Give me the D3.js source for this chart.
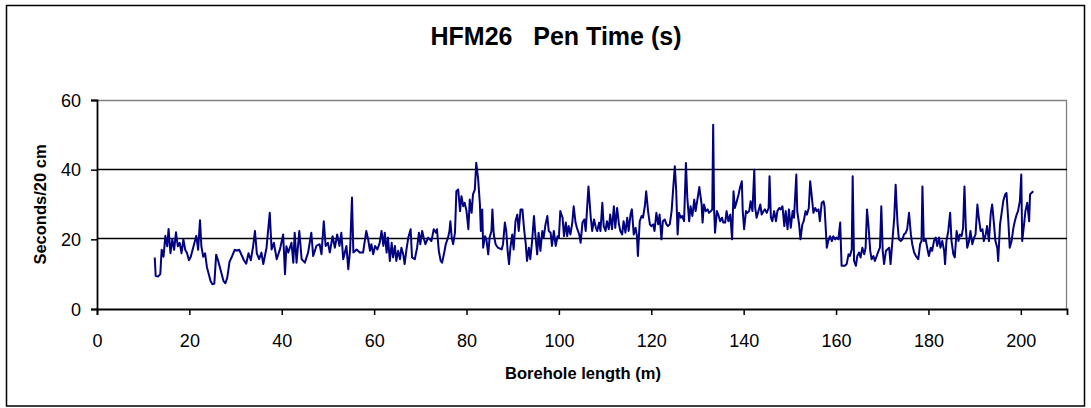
<!DOCTYPE html>
<html>
<head>
<meta charset="utf-8">
<script src="https://cdn.jsdelivr.net/npm/d3@7"></script>
<style>
  body { margin: 0; background: #fff; }
  svg { display: block; font-family: "Liberation Sans", Arial, sans-serif; }
</style>
</head>
<body>
<div id="chart"></div>
<script>
// borehole length (m)
const depth = [
  12.5,12.7,13.2,13.7,14.0,14.4,14.8,15.2,15.5,15.9,16.3,16.7,17.1,17.5,17.9,18.3,18.7,19.1,19.5,19.9,
  20.3,20.7,21.1,21.5,21.9,22.3,22.6,23.0,23.4,23.8,24.2,24.6,25.0,25.4,25.8,26.2,26.6,27.0,27.4,27.8,
  28.2,28.7,29.2,29.8,30.3,30.8,31.3,31.8,32.3,32.8,33.3,33.8,34.2,34.6,35.1,35.6,36.0,36.7,37.4,37.8,
  38.3,38.9,39.6,40.3,40.7,41.0,41.4,42.1,42.5,42.8,43.2,43.8,44.3,45.0,45.7,46.4,46.8,47.5,48.2,48.6,
  49.1,49.5,50.0,50.4,51.0,51.5,52.0,52.5,52.9,53.3,54.0,54.4,54.8,55.2,55.5,56.2,56.9,57.6,58.3,58.7,
  59.1,59.4,59.8,60.2,60.7,61.2,61.6,62.0,62.3,62.7,63.0,63.4,63.8,64.1,64.5,64.8,65.2,65.6,65.9,66.3,
  66.6,67.0,67.4,67.9,68.2,68.8,69.3,69.7,70.0,70.4,70.8,71.1,71.7,72.4,72.9,73.4,73.6,74.0,74.4,74.7,
  75.1,75.5,76.0,76.3,76.5,76.8,77.1,77.5,77.8,78.2,78.6,78.9,79.3,79.6,80.0,80.4,80.7,81.1,81.4,81.8,
  82.1,82.5,82.9,83.1,83.4,83.6,84.0,84.3,84.7,85.0,85.4,85.6,85.9,86.3,86.8,87.6,87.9,88.3,88.6,88.9,
  89.2,89.5,89.9,90.2,90.6,91.0,91.3,91.7,92.1,92.5,92.8,93.1,93.5,93.8,94.2,94.6,94.9,95.3,95.6,96.0,
  96.4,96.7,97.1,97.5,97.8,98.2,98.5,98.9,99.3,99.7,100.0,100.3,100.8,101.1,101.5,101.8,102.1,102.5,102.9,103.2,
  103.6,103.9,104.4,104.7,105.1,105.5,105.8,106.4,106.9,107.2,107.6,108.0,108.3,108.7,109.0,109.4,109.7,110.1,110.4,110.8,
  111.1,111.5,111.9,112.2,112.6,113.0,113.3,113.7,114.0,114.4,114.8,115.1,115.5,115.8,116.2,116.6,116.9,117.1,117.5,117.9,
  118.2,118.6,118.9,119.3,119.7,120.0,120.4,120.7,121.1,121.5,121.8,122.2,122.5,122.9,123.3,123.6,124.0,124.4,124.7,125.1,
  125.4,125.7,126.0,126.4,126.7,127.1,127.5,127.8,128.2,128.5,128.9,129.3,129.6,130.4,130.9,131.1,131.4,131.8,132.2,132.5,
  132.9,133.2,133.4,133.6,133.8,134.2,134.5,134.9,135.3,135.6,136.0,136.3,136.7,137.1,137.5,137.8,138.1,138.5,138.9,139.2,
  139.6,139.8,140.1,140.5,140.8,141.2,141.5,141.9,142.3,142.5,142.8,143.2,143.6,143.9,144.3,144.6,145.0,145.4,145.6,145.9,
  146.2,146.6,147.0,147.3,147.7,148.0,148.4,148.8,149.1,149.5,149.8,150.2,150.6,150.9,151.4,151.6,152.0,152.3,152.7,153.0,
  153.4,153.7,154.1,154.4,154.7,155.1,155.5,155.8,156.2,156.5,156.9,157.3,157.5,157.8,158.0,158.3,158.7,159.1,159.4,159.8,
  160.1,160.5,160.9,161.2,161.6,161.9,162.3,162.7,163.0,163.4,163.6,163.9,164.3,164.6,165.0,165.3,165.7,166.1,166.4,166.7,
  167.0,167.4,167.7,168.1,168.4,168.8,169.2,169.5,169.8,170.1,170.4,170.8,171.1,171.5,171.8,172.2,172.6,172.9,173.3,173.6,
  174.0,174.4,174.7,175.1,175.4,175.8,176.2,176.5,176.9,177.3,177.8,178.2,178.5,178.7,179.0,179.4,179.8,180.1,180.5,180.8,
  181.2,181.6,181.9,182.3,182.6,183.0,183.4,183.6,183.9,184.3,184.7,185.0,185.4,185.7,186.1,186.5,186.8,187.2,187.5,187.8,
  188.1,188.4,188.8,189.1,189.5,189.9,190.2,190.6,190.9,191.3,191.7,192.0,192.4,192.7,193.1,193.5,193.8,194.2,194.5,194.9,
  195.1,195.5,195.8,196.2,196.6,196.9,197.3,197.6,198.0,198.4,198.7,199.1,199.4,199.8,200.1,200.3,200.7,201.0,201.4,201.8,
  202.0,202.3,202.7
];

// pen time (seconds / 20 cm)
const penTime = [
  14.8,9.5,9.3,10,17,15,21,18,23,16,20,17,22,18,19,16,20,17,16,14,
  15,17,19,21,17,25.5,18,15,16,12,10,8,7.1,7.3,15.6,14,12,10,8,7.4,
  9,13.6,15,17,16.8,17,15.5,14,13,16,14,18,22.4,16,14.3,16.2,12.9,17.6,27.6,17.1,
  19,14.3,17.1,21.4,10,18,16.2,19,13.3,21.9,13.3,22.4,14.3,13.3,16.2,21.9,15.2,18.1,18.6,15.7,
  25.2,18.1,19,16.2,20.9,17.6,21.4,18.1,21.9,14.3,18.1,11.4,17.1,32,16.2,17.1,16.2,16.2,22.4,20,
  16.7,18.6,15.7,18.1,17.1,19,22.4,18.1,21.9,16.2,20.5,13.8,19,14.8,18.1,13.8,16.7,14.3,17.6,15.7,
  12.9,17.1,20.5,22.9,14.8,14.3,17.6,21.9,18.6,22.4,20,18.6,20.5,19.5,22.9,21.9,22.9,16.7,13.8,13.3,
  15.7,18.6,20.5,22.4,25.2,20.5,18.6,21.9,33.8,34.3,28.1,32.4,29.5,30.5,28.1,22.9,31.4,27.6,32.9,34.3,
  42,37.6,30,22.4,28.6,17.6,20.9,20,15.7,20.5,22.4,28.6,21.4,18.6,17.6,17.1,18.6,24.8,22.4,16.7,
  12.9,17.6,21.4,17.1,25.2,27.1,22.4,28.6,28.6,22.4,19,13.8,17.6,14.3,19.5,26.7,21.4,15.7,21.9,16.7,
  22.4,20.5,24.3,26.7,22.4,21.9,18.1,22.4,18.1,20.9,20.5,28.1,26.2,20.9,24.8,20.9,23.8,21.4,24.8,29.5,
  24.8,23.3,21.4,19,24.8,25.7,22.4,35.2,26.2,22.4,25.7,23.3,22.4,24.8,22.4,30.5,23.8,22.4,25.2,22.9,
  27.1,22.9,29.5,23.3,29,24.3,22.4,21.4,25.2,21.9,26.2,22.4,27.1,28.6,21.4,23.3,20.9,15.2,25.2,26.7,
  26.2,29.5,33.8,28.1,24.3,23.8,24.3,22.4,27.6,24.3,27.1,20,25.2,25.7,24.3,23.8,24.3,28.1,33.8,41,
  33.8,21.4,27.6,26.2,26.7,25.2,41.9,31.9,25.2,29.5,26.7,31.4,28.1,35,30,24.8,30,28.1,28.6,27.6,
  28.1,28.6,52.9,28.6,21.9,28.1,27.1,25.2,26.2,24.8,24.8,28.1,25.2,27.1,20,33.8,29,30.9,32.9,34.8,
  36.7,28.1,22.9,28.1,27.6,28.1,30.9,28.1,40,29,26.2,28.1,30,27.1,28.1,28.6,27.6,29,38.1,26.2,
  25.2,28.1,25.2,28.1,29,28.6,29.5,23.8,28.1,22.9,28.6,23.3,28.1,26.2,38.6,28.1,24.3,20,24.3,25.2,
  28.1,27.1,29,36.7,32.9,27.6,29,28.1,28.6,25.2,30.5,30.9,29.5,22.4,17.6,19.5,20.9,19.5,20.9,20,
  20.5,20,24.8,12.4,12.4,12.4,12.9,15.7,15.2,17.1,38.1,13.8,12.4,15.2,16.2,14.8,17.6,15.7,17.6,28.6,
  24.3,16.7,14.3,15.2,13.8,15.2,16.7,17.6,29.5,16.7,12.9,16.7,17.1,17.6,12.9,19.5,26.2,35.7,24.8,20,
  19.5,20,21.4,21.9,22.9,27.6,21.4,18.6,16.2,15.2,14.3,18.6,19.5,35.2,19.5,20,17.1,15.2,17.6,16.7,
  19.5,20.5,18.1,20.5,17.6,19.5,16.7,12.9,19.5,22.4,27.6,19.5,15.7,14.8,22.4,19.5,21.4,21,23.3,35.2,
  23.3,17.6,19.5,22.4,18.6,20.5,21.4,30,26.2,22.4,22.9,19.5,21.4,23.8,19.5,27.6,30,24.3,19.5,17.6,
  13.8,24.3,27.1,31,32.9,33.3,25.2,17.6,19.5,23.3,25.2,27.1,28.1,31,38.6,19.5,24.3,28.1,30.5,25.2,
  32.9,33.3,33.8
];

const xTicks = [0, 20, 40, 60, 80, 100, 120, 140, 160, 180, 200];
const yTicks = [0, 20, 40, 60];

const W = 1091, H = 408;
const margin = {top: 100, right: 24, bottom: 99, left: 97};
const width = W - margin.left - margin.right;
const height = H - margin.top - margin.bottom;

const svg = d3.select("#chart").append("svg")
    .attr("width", W)
    .attr("height", H);

// outer frame
svg.append("rect")
    .attr("x", 6.5).attr("y", 5.5)
    .attr("width", 1078).attr("height", 400.5)
    .attr("fill", "none")
    .attr("stroke", "#000")
    .attr("stroke-width", 1.5);

const g = svg.append("g")
    .attr("transform", "translate(" + margin.left + "," + margin.top + ")");

const x = d3.scaleLinear().domain([0, 210]).range([0, width]);
const y = d3.scaleLinear().domain([0, 60]).range([height, 0]);

// plot area border (grey, top + right)
g.append("path")
    .attr("d", "M0,0.5H" + (width - 0.5) + "V" + height)
    .attr("fill", "none")
    .attr("stroke", "#808080")
    .attr("stroke-width", 1.3);

// gridlines
g.selectAll(".grid")
    .data(yTicks.filter(d => d > 0 && d < 60))
    .enter().append("line")
    .attr("class", "grid")
    .attr("x1", 0).attr("x2", width)
    .attr("y1", d => Math.round(y(d)) - 0.5)
    .attr("y2", d => Math.round(y(d)) - 0.5)
    .attr("stroke", "#000")
    .attr("stroke-width", 1.3);

const xAxis = g.append("g")
    .attr("transform", "translate(0," + height + ")")
    .call(d3.axisBottom(x).tickValues(xTicks).tickSize(6).tickPadding(19));

const yAxis = g.append("g")
    .call(d3.axisLeft(y).tickValues(yTicks).tickSize(6).tickPadding(10));

[xAxis, yAxis].forEach(a => {
    a.select(".domain").attr("stroke", "#000").attr("stroke-width", 1.8);
    a.selectAll(".tick line").attr("stroke", "#000").attr("stroke-width", 1.5);
    a.selectAll(".tick text")
        .attr("fill", "#000")
        .style("font-size", "18px")
        .style("font-family", "'Liberation Sans', Arial, sans-serif");
});
yAxis.selectAll(".tick text").attr("dy", "0.35em");

// the series
const data = depth.map((d, i) => ({x: d, y: penTime[i]}));
const line = d3.line().x(d => x(d.x)).y(d => y(d.y));

g.append("path")
    .datum(data)
    .attr("fill", "none")
    .attr("stroke", "#000080")
    .attr("stroke-width", 2)
    .attr("stroke-linejoin", "round")
    .attr("d", line);

// titles
svg.append("text")
    .attr("x", 556).attr("y", 45)
    .attr("text-anchor", "middle")
    .style("font-size", "25px")
    .style("font-weight", "bold")
    .style("white-space", "pre")
    .text("HFM26   Pen Time (s)");

svg.append("text")
    .attr("x", 583).attr("y", 379)
    .attr("text-anchor", "middle")
    .style("font-size", "16.5px")
    .style("font-weight", "bold")
    .text("Borehole length (m)");

svg.append("text")
    .attr("transform", "translate(46," + (margin.top + height / 2) + ") rotate(-90)")
    .attr("text-anchor", "middle")
    .style("font-size", "16.5px")
    .style("font-weight", "bold")
    .text("Seconds/20 cm");
</script>
</body>
</html>
